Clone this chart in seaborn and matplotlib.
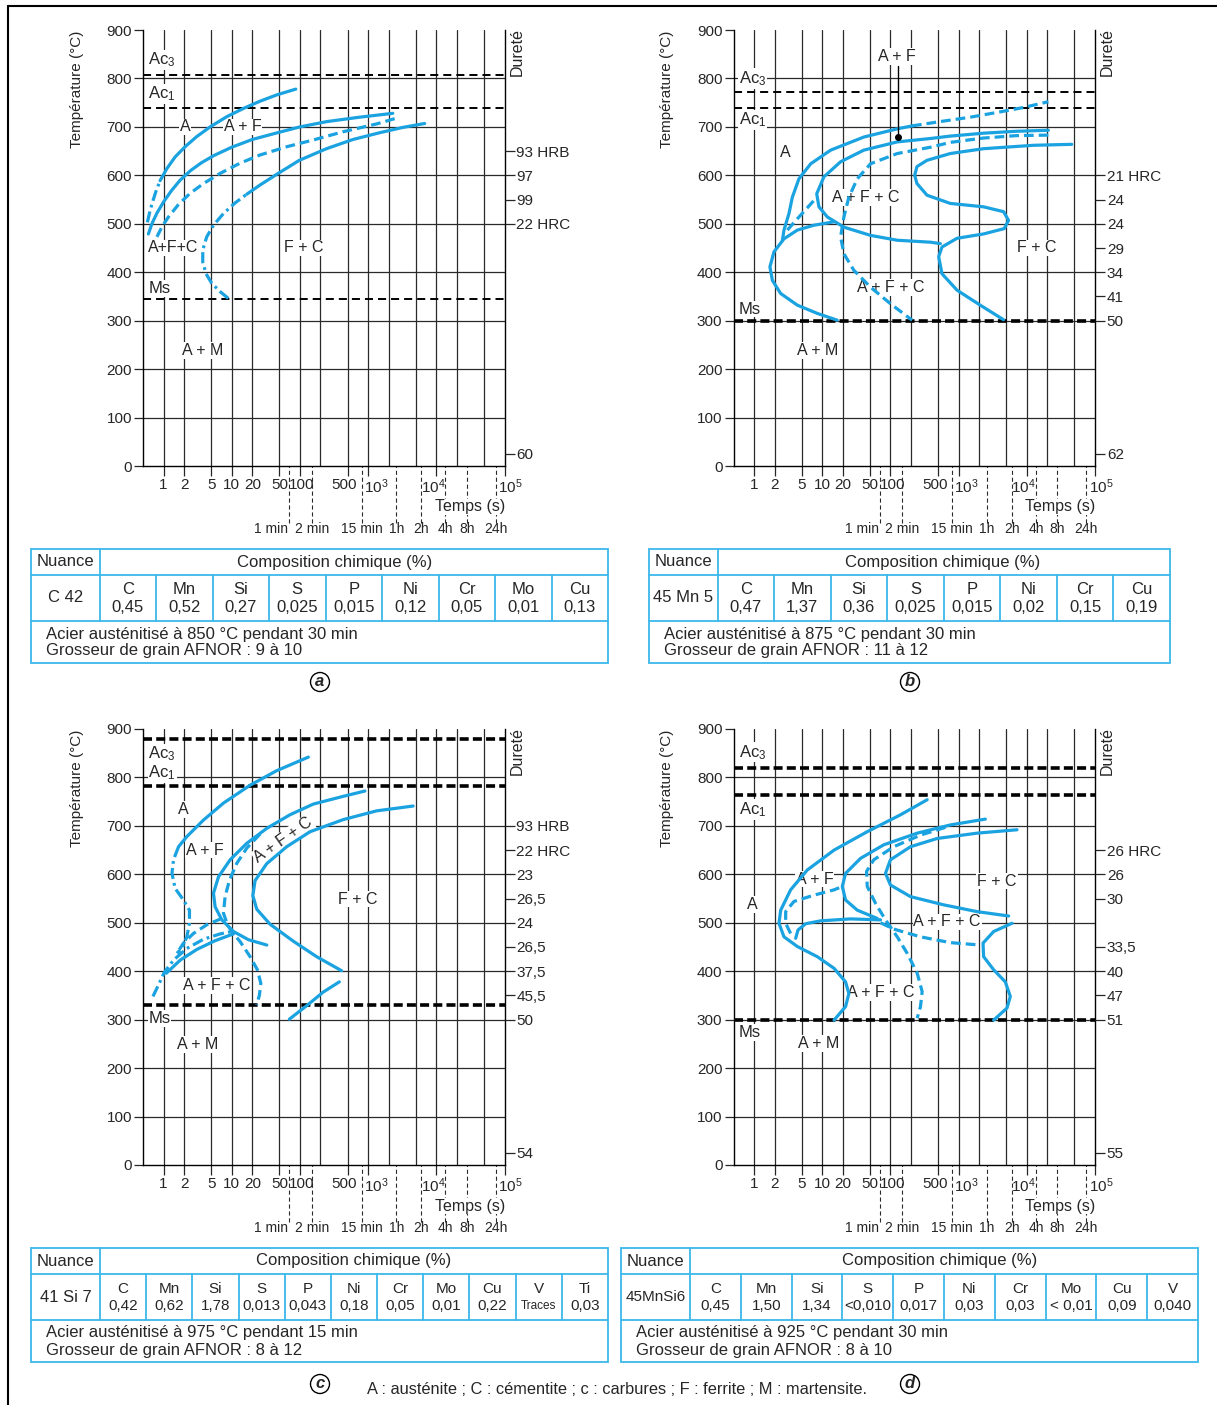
import matplotlib
matplotlib.use("Agg")
import matplotlib.pyplot as plt
from matplotlib.patches import Rectangle
from matplotlib.ticker import NullLocator
from matplotlib.transforms import ScaledTranslation
import seaborn as sns

# ---------------- shared axes data ----------------
TIME_GRID = [1, 2, 5, 10, 20, 50, 100, 200, 500, 1e3, 2e3, 5e3, 1e4, 2e4, 5e4]
TIME_TICKS = [1, 2, 5, 10, 20, 50, 100, 500, 1e3, 1e4, 1e5]
TIME_TICK_LAB = ["1", "2", "5", "10", "20", "50", "100", "500", "10$^3$", "10$^4$", "10$^5$"]
TICK_DX = [0, 0, 0, 0, 0, 0, 2, -3, 8, -3, 6]   # label nudges, pixels
CLOCK_T = [70, 150, 800, 2600, 6000, 13600, 28000, 74000]
CLOCK_LAB = ["1 min", "2 min", "15 min", "1h", "2h", "4h", "8h", "24h"]
TEMP_TICKS = [0, 100, 200, 300, 400, 500, 600, 700, 800, 900]

# ---------------- panel a : C 42 ----------------
a_ac3, a_ac1, a_ms = 807, 740, 345
a_hard_T = [650, 600, 550, 500, 25]
a_hard_lab = ["93 HRB", "97", "99", "22 HRC", "60"]
a1_dd = ([0.58, 0.62, 0.68, 0.77, 0.89], [503, 521, 542, 566, 589])
a1 = ([0.89, 1.12, 1.48, 2.07, 3.07, 4.82, 8.45, 14.8, 26, 45.6, 87],
      [589, 614, 638, 659, 680, 700, 721, 738, 753, 766, 778])
a2 = ([0.60, 0.675, 0.80, 1.0, 1.3, 1.75, 2.5, 3.6, 5.5, 10, 20, 50, 100, 250, 750, 2300],
      [479, 500, 522, 545, 568, 590, 610, 626, 641, 658, 674, 689, 700, 711, 720, 728])
a3 = ([0.80, 0.95, 1.18, 1.66, 2.46, 3.85, 6.75, 13.2, 26, 64, 157, 431, 1320, 2750],
      [473, 494, 514, 540, 563, 583, 604, 625, 642, 659, 673, 690, 706, 719])
a4_dd = ([8.9, 6.75, 5.1, 4.2, 3.76, 3.76, 4.3, 5.4, 7.55, 11.2, 16.6],
         [346, 360, 377, 397, 421, 446, 473, 497, 521, 543, 561])
a4 = ([16.6, 26, 45.6, 98, 245, 600, 1480, 3250, 6750],
      [561, 580, 602, 631, 655, 674, 688, 699, 707])
a_labels = [("A", 2.07, 700), ("A + F", 14.5, 700), ("A+F+C", 1.4, 450),
            ("F + C", 112, 450), ("A + M", 3.76, 238)]
a_crit_lab_T = [838, 768, 366]

# ---------------- panel b : 45 Mn 5 ----------------
b_ac3, b_ac1, b_ms = 773, 738, 300
b_hard_T = [600, 550, 500, 450, 400, 350, 300, 25]
b_hard_lab = ["21 HRC", "24", "24", "29", "34", "41", "50", "62"]
b1 = ([2.6, 2.75, 3.25, 3.65, 4.56, 6.8, 13.3, 40.7, 126, 207],
      [465, 487, 521, 555, 593, 624, 652, 679, 696, 702])
b1_dash = ([207, 540, 1480, 4070, 8920, 20750], [702, 711, 720, 731, 740, 752])
b_nose_dash = ([3.08, 4.56, 7.55], [487, 514, 548])
b2 = ([20750, 7140, 2320, 755, 385, 126, 40.7, 18.6, 10.6, 8.3, 8.95, 11.9, 20.8, 51.2, 126, 386, 540],
      [693, 691, 687, 681, 676, 669, 652, 628, 597, 562, 535, 514, 493, 476, 466, 462, 459])
b3 = ([20750, 7140, 2320, 755, 385, 126, 51.2, 32.7, 24.6, 20.8, 18.6, 20.8, 29.1, 51.2, 100, 208],
      [683, 682, 677, 668, 658, 645, 624, 593, 555, 514, 473, 438, 404, 369, 335, 301])
b4 = ([14.8, 7.55, 4.32, 2.75, 1.96, 1.71, 1.86, 2.46, 4.32, 8.47, 16.6],
      [504, 497, 487, 469, 442, 411, 383, 356, 332, 315, 301])
b5 = ([45600, 12530, 2320, 755, 344, 245, 227, 245, 344, 755, 2320, 4560, 5400, 4660, 2320,
       946, 570, 510, 570, 946, 2075, 4560],
      [664, 662, 655, 645, 631, 618, 600, 583, 559, 542, 535, 525, 507, 490, 479,
       470, 452, 432, 397, 363, 332, 302])
b_pointer = ([128, 128], [826, 680])
b_labels = [("A + F", 125, 845), ("A", 2.9, 647), ("A + F + C", 43, 554),
            ("F + C", 14000, 450), ("A + F + C", 102, 368), ("A + M", 8.45, 238)]
b_crit_lab_T = [800, 714, 324]

# ---------------- panel c : 41 Si 7 ----------------
c_ac3, c_ac1, c_ms = 880, 783, 330
c_hard_T = [700, 650, 600, 550, 500, 450, 400, 350, 300, 25]
c_hard_lab = ["93 HRB", "22 HRC", "23", "26,5", "24", "26,5", "37,5", "45,5", "50", "54"]
c1 = ([133, 45.7, 18.6, 7.56, 3.85, 2.2, 1.66], [842, 814, 784, 747, 712, 678, 657])
c1_dd = ([1.66, 1.4, 1.33, 1.48, 1.96, 2.4, 2.4, 2.2, 1.86, 1.57],
         [657, 630, 602, 571, 547, 526, 499, 471, 447, 437])
c_short_dash = ([7.16, 4.32, 2.75, 1.96, 1.57], [509, 496, 478, 458, 437])
c_low_dd = ([0.70, 0.845, 1.02, 1.4, 2.2, 3.85, 6.76, 10], [348, 372, 397, 423, 447, 466, 477, 482])
c_low = ([1.1, 1.76, 3.08, 5.71, 10.6], [396, 423, 445, 463, 477])
c2 = ([898, 432, 157, 71.6, 32.7, 16.6, 9.48, 6.4, 5.4, 5.71, 7.16, 10.6, 17.6, 32.7],
      [772, 761, 745, 723, 695, 664, 630, 595, 561, 533, 506, 482, 465, 454])
c3 = ([26, 16.6, 11.9, 9.26, 8.0, 7.56, 8.65, 10, 13.3, 18.6, 23.8, 26.7, 25.5, 23.3],
      [683, 654, 623, 588, 554, 520, 496, 482, 461, 430, 403, 375, 351, 330])
c4 = ([4570, 1330, 432, 141, 64, 32.6, 22, 20.4, 23.3, 36.5, 80, 176, 409],
      [741, 731, 713, 688, 657, 622, 587, 556, 528, 497, 462, 430, 401])
c5 = ([70, 126, 220, 378], [301, 329, 357, 378])
c_labels = [("A", 1.96, 734), ("A + F", 4.08, 650), ("A + F + C", 57, 671, 35),
            ("F + C", 716, 549), ("A + F + C", 6.04, 371), ("A + M", 3.15, 249)]
c_crit_lab_T = [849, 810, 302]

# ---------------- panel d : 45MnSi6 ----------------
d_ac3, d_ac1, d_ms = 820, 764, 300
d_hard_T = [650, 600, 550, 450, 400, 350, 300, 25]
d_hard_lab = ["26 HRC", "26", "30", "33,5", "40", "47", "51", "55"]
d1 = ([346, 141, 45.7, 14.9, 6.04, 3.44, 2.46, 2.32, 2.75, 4.32, 8.47, 14.9, 22, 24.6, 22, 14.9],
      [754, 723, 688, 650, 609, 568, 526, 499, 471, 451, 430, 406, 378, 354, 327, 299])
d2 = ([3.44, 2.91, 2.91, 3.85, 7.55, 14.9, 19.7], [478, 499, 523, 544, 557, 568, 575])
d3 = ([2466, 758, 247, 80, 36.5, 22, 19.7, 22, 32.7, 64],
      [714, 702, 685, 661, 633, 602, 575, 547, 526, 509])
d4 = ([71.6, 26, 9.46, 5.71, 4.41, 4.08], [506, 508, 504, 498, 485, 468])
d5 = ([641, 276, 112, 57, 44.7, 45.7, 60.5, 84.7, 126, 176, 247, 292, 276, 247],
      [697, 681, 657, 630, 606, 575, 540, 506, 471, 437, 396, 358, 327, 303])
d6 = ([71.6, 112, 276, 758, 2084], [500, 487, 471, 459, 454])
d7 = ([7180, 1867, 484, 197, 100, 84.7, 100, 197, 605, 1867, 5420],
      [692, 685, 674, 657, 630, 602, 578, 554, 537, 523, 514])
d8 = ([6070, 3265, 2281, 2327, 3265, 4840, 5730, 5120, 3265],
      [499, 482, 458, 430, 403, 378, 348, 324, 299])
d_labels = [("A", 0.95, 538), ("A + F", 7.74, 590), ("F + C", 3660, 586),
            ("A + F + C", 678, 502), ("A + F + C", 73.3, 356), ("A + M", 8.95, 251)]
d_crit_lab_T = [852, 734, 273]

# ---------------- composition tables ----------------
a_name = "C 42"
a_elem = ["C", "Mn", "Si", "S", "P", "Ni", "Cr", "Mo", "Cu"]
a_val = ["0,45", "0,52", "0,27", "0,025", "0,015", "0,12", "0,05", "0,01", "0,13"]
a_note = ["Acier austénitisé à 850 °C pendant 30 min", "Grosseur de grain AFNOR : 9 à 10"]
b_name = "45 Mn 5"
b_elem = ["C", "Mn", "Si", "S", "P", "Ni", "Cr", "Cu"]
b_val = ["0,47", "1,37", "0,36", "0,025", "0,015", "0,02", "0,15", "0,19"]
b_note = ["Acier austénitisé à 875 °C pendant 30 min", "Grosseur de grain AFNOR : 11 à 12"]
c_name = "41 Si 7"
c_elem = ["C", "Mn", "Si", "S", "P", "Ni", "Cr", "Mo", "Cu", "V", "Ti"]
c_val = ["0,42", "0,62", "1,78", "0,013", "0,043", "0,18", "0,05", "0,01", "0,22", "Traces", "0,03"]
c_note = ["Acier austénitisé à 975 °C pendant 15 min", "Grosseur de grain AFNOR : 8 à 12"]
d_name = "45MnSi6"
d_elem = ["C", "Mn", "Si", "S", "P", "Ni", "Cr", "Mo", "Cu", "V"]
d_val = ["0,45", "1,50", "1,34", "<0,010", "0,017", "0,03", "0,03", "< 0,01", "0,09", "0,040"]
d_note = ["Acier austénitisé à 925 °C pendant 30 min", "Grosseur de grain AFNOR : 8 à 10"]
LEGEND = "A : austénite ; C : cémentite ; c : carbures ; F : ferrite ; M : martensite."

# ---------------- style ----------------
sns.set_style("white")
plt.rcParams["font.family"] = ["Liberation Sans", "DejaVu Sans"]
plt.rcParams["mathtext.fontset"] = "custom"
plt.rcParams["mathtext.rm"] = "Liberation Sans"
plt.rcParams["mathtext.it"] = "Liberation Sans:italic"
plt.rcParams["mathtext.bf"] = "Liberation Sans:bold"
plt.rcParams["lines.scale_dashes"] = False

BLUE = "#1aa3e0"
TABLE_C = "#3bb8ea"
GRID_C = "#2a2a2a"
SOLID, DASH, DASHDOT = "-", (0, (7, 3.6)), (0, (8, 3, 2, 3))
THIN, THICK = 1.4, 2.6

W, H = 1217, 1405
PW, PH = 361.5, 436

fig = plt.figure(figsize=(W / 100, H / 100), dpi=100)
ov = fig.add_axes([0, 0, 1, 1])
ov.set_xlim(0, W)
ov.set_ylim(H, 0)
ov.axis("off")


def draw_curve(ax, data, style):
    t, temp = data
    sns.lineplot(x=t, y=temp, sort=False, estimator=None, ax=ax, color=BLUE,
                 linewidth=2.3, linestyle=style, zorder=4)


def panel(left, top, curves, labels, crit, crit_lab_T, crit_lw, hard_T, hard_lab):
    ax = fig.add_axes([left / W, 1 - (top + PH) / H, PW / W, PH / H])
    ax.set_xscale("log")
    ax.set_xlim(0.5, 1e5)
    ax.set_ylim(0, 900)
    for t in TIME_GRID:
        ax.axvline(t, color=GRID_C, lw=0.9, zorder=1)
    for temp in TEMP_TICKS[1:-1]:
        ax.axhline(temp, color=GRID_C, lw=0.9, zorder=1)
    ax.spines["top"].set_visible(False)
    for s in ["left", "right", "bottom"]:
        ax.spines[s].set_color("black")
        ax.spines[s].set_linewidth(1.0)
    ax.set_xticks(TIME_TICKS)
    ax.set_xticklabels(TIME_TICK_LAB)
    ax.xaxis.set_minor_locator(NullLocator())
    ax.set_yticks(TEMP_TICKS)
    ax.tick_params(axis="x", bottom=True, length=7, width=0.9, pad=1.5, labelsize=11)
    ax.tick_params(axis="y", left=True, length=6.5, width=0.9, pad=1.5, labelsize=11)
    for lab, dx in zip(ax.get_xticklabels(), TICK_DX):
        lab.set_transform(lab.get_transform() + ScaledTranslation(dx / 100, 0, fig.dpi_scale_trans))
    ax.grid(False)

    ax2 = ax.twinx()
    ax2.set_ylim(0, 900)
    ax2.set_yticks(hard_T)
    ax2.set_yticklabels(hard_lab)
    ax2.tick_params(axis="y", right=True, length=7, width=0.9, pad=1.5, labelsize=11)
    for s in ax2.spines.values():
        s.set_visible(False)
    ax2.grid(False)

    # critical temperatures
    for val, lw in zip(crit, crit_lw):
        dash = (0, (5.8, 3.6)) if lw == THIN else (0, (6.5, 3))
        ax.axhline(val, color="black", lw=lw, ls=dash, zorder=3)
    bb = dict(facecolor="white", edgecolor="none", pad=0.6)
    for txt, temp in zip(["Ac$_3$", "Ac$_1$", "Ms"], crit_lab_T):
        ax.text(0.6, temp, txt, ha="left", va="center", fontsize=12, bbox=bb, zorder=2)

    for lab in labels:
        rot = lab[3] if len(lab) > 3 else 0
        ax.text(lab[1], lab[2], lab[0], ha="center", va="center", fontsize=11.5,
                rotation=rot, bbox=bb, zorder=2)

    for data, style in curves:
        draw_curve(ax, data, style)

    # clock-time marks below the time axis
    trans = ax.get_xaxis_transform()
    ax.vlines(CLOCK_T, -57 / PH, 0, transform=trans, colors=GRID_C, lw=0.8,
              linestyles=(0, (3, 2)), clip_on=False)
    for t, lab in zip(CLOCK_T, CLOCK_LAB):
        ha = "right" if lab == "1 min" else "center"
        ax.text(t * (0.97 if ha == "right" else 1), -63 / PH, lab, transform=trans,
                ha=ha, va="center", fontsize=10)

    def ftext(x, y, s, **kw):
        fig.text(x / W, 1 - y / H, s, **kw)

    ftext(left - 66, top + 59, "Température (°C)", rotation=90, ha="center", va="center", fontsize=11)
    ftext(left + 374, top + 22, "Dureté", rotation=90, ha="center", va="center", fontsize=11.5)
    ftext(left + 327, top + 477, "Temps (s)", ha="center", va="center", fontsize=11.5,
          bbox=dict(facecolor="white", edgecolor="none", pad=0.5))
    return ax


def draw_table(left, top, width, name_w, head_x, name, elems, vals, notes, size, name_size):
    right = left + width
    kw = dict(color=TABLE_C, lw=1.3)
    ov.add_patch(Rectangle((left, top), width, 114, fill=False, ec=TABLE_C, lw=1.3))
    ov.plot([left, right], [top + 26] * 2, **kw)
    ov.plot([left, right], [top + 72] * 2, **kw)
    x0 = left + name_w
    ov.plot([x0, x0], [top, top + 72], **kw)
    col = (right - x0) / len(elems)
    for i, (e, v) in enumerate(zip(elems, vals)):
        xl = x0 + i * col
        if i:
            ov.plot([xl, xl], [top + 26, top + 72], **kw)
        xc = xl + col / 2
        ov.text(xc, top + 41, e, ha="center", va="center", fontsize=size)
        ov.text(xc, top + 58, v, ha="center", va="center",
                fontsize=8.5 if v == "Traces" else size)
    ov.text(left + name_w / 2, top + 13, "Nuance", ha="center", va="center", fontsize=12)
    ov.text(head_x, top + 13, "Composition chimique (%)", ha="center", va="center", fontsize=12)
    ov.text(left + name_w / 2, top + 49, name, ha="center", va="center", fontsize=name_size)
    ov.text(left + 15, top + 85, notes[0], ha="left", va="center", fontsize=12)
    ov.text(left + 15, top + 102, notes[1], ha="left", va="center", fontsize=12)


panel(143, 30,
      [(a1_dd, DASHDOT), (a1, SOLID), (a2, SOLID), (a3, DASH), (a4_dd, DASHDOT), (a4, SOLID)],
      a_labels, [a_ac3, a_ac1, a_ms], a_crit_lab_T, [THIN, THIN, THIN], a_hard_T, a_hard_lab)

axb = panel(733.5, 30,
            [(b1, SOLID), (b1_dash, DASH), (b_nose_dash, DASH), (b2, SOLID), (b3, DASH),
             (b4, SOLID), (b5, SOLID)],
            b_labels, [b_ac3, b_ac1, b_ms], b_crit_lab_T, [THIN, THIN, THICK], b_hard_T, b_hard_lab)
axb.plot(b_pointer[0], b_pointer[1], color="black", lw=1.0, zorder=5)
axb.plot(b_pointer[0][-1], b_pointer[1][-1], "o", color="black", ms=4, zorder=5)

panel(143, 729,
      [(c1, SOLID), (c1_dd, DASHDOT), (c_short_dash, DASH), (c_low_dd, DASHDOT), (c_low, SOLID),
       (c2, SOLID), (c3, DASH), (c4, SOLID), (c5, SOLID)],
      c_labels, [c_ac3, c_ac1, c_ms], c_crit_lab_T, [THICK, THICK, THICK], c_hard_T, c_hard_lab)

panel(733.5, 729,
      [(d1, SOLID), (d2, DASH), (d3, SOLID), (d4, SOLID), (d5, DASH), (d6, DASH),
       (d7, SOLID), (d8, SOLID)],
      d_labels, [d_ac3, d_ac1, d_ms], d_crit_lab_T, [THICK, THICK, THICK], d_hard_T, d_hard_lab)

draw_table(31, 549, 577, 68.5, 335, a_name, a_elem, a_val, a_note, 12, 12)
draw_table(649, 549, 521, 68.5, 943, b_name, b_elem, b_val, b_note, 12, 12)
draw_table(31, 1248, 577, 69, 354, c_name, c_elem, c_val, c_note, 11, 12)
draw_table(621, 1248, 577, 69, 940, d_name, d_elem, d_val, d_note, 11, 11)

circ = dict(boxstyle="circle,pad=0.12", facecolor="white", edgecolor="black", lw=1.0)
for x, y, letter in [(320, 682, "a"), (910, 682, "b"), (320, 1384, "c"), (910, 1384, "d")]:
    ov.text(x, y, letter, ha="center", va="center", fontsize=12, style="italic",
            weight="bold", bbox=circ)
ov.text(617, 1389, LEGEND, ha="center", va="center", fontsize=11.8)

# page frame
ov.plot([8, 8], [6, H], color="black", lw=1.5)
ov.plot([8, W], [6, 6], color="black", lw=1.5)

fig.savefig("out.png", dpi=100)
